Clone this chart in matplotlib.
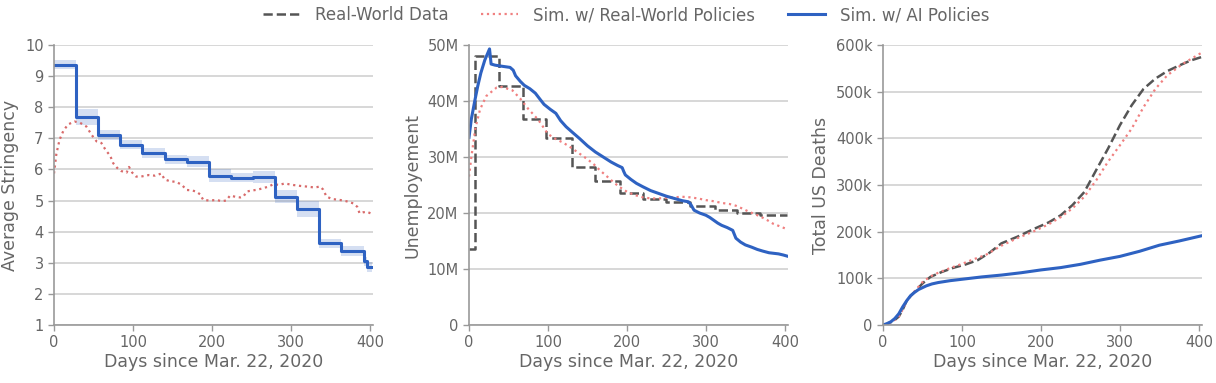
import matplotlib
matplotlib.use("Agg")
import matplotlib.pyplot as plt
from matplotlib.ticker import FuncFormatter

# --- stringency ---
str_rw_days = [0, 3, 7, 12, 18, 26, 33, 41, 48, 54, 60, 66, 71, 75, 80, 85, 92, 95, 99, 104,
               112, 120, 128, 136, 140, 147, 155, 162, 168, 174, 180, 185, 189, 197, 206, 212,
               218, 223, 230, 236, 240, 244, 250, 258, 265, 272, 278, 285, 292, 303, 312, 320,
               330, 337, 341, 345, 352, 362, 370, 379, 384, 387, 391, 396, 403]
str_rw_vals = [5.87, 6.5, 6.95, 7.25, 7.45, 7.54, 7.5, 7.38, 7.1, 6.9, 6.85, 6.6, 6.45, 6.2,
               6.05, 5.95, 5.9, 6.08, 5.9, 5.77, 5.78, 5.82, 5.8, 5.87, 5.68, 5.62, 5.6, 5.5,
               5.34, 5.33, 5.29, 5.2, 5.02, 5.0, 5.02, 4.98, 5.0, 5.16, 5.12, 5.1, 5.13, 5.29,
               5.32, 5.35, 5.4, 5.45, 5.53, 5.5, 5.55, 5.5, 5.47, 5.45, 5.42, 5.45, 5.35, 5.13,
               5.05, 5.02, 4.98, 4.91, 4.8, 4.59, 4.62, 4.64, 4.57]
str_ai_days = [0, 28, 56, 84, 112, 140, 168, 196, 224, 252, 280, 308, 336, 364, 392, 397, 403]
str_ai_vals = [9.37, 7.68, 7.11, 6.8, 6.53, 6.32, 6.25, 5.8, 5.74, 5.76, 5.13, 4.72, 3.62,
               3.38, 3.05, 2.86, 2.86]
str_ai_err = [0.15, 0.25, 0.15, 0.15, 0.15, 0.15, 0.17, 0.2, 0.15, 0.2, 0.2, 0.25, 0.15,
              0.15, 0.15, 0.15, 0.15]

# --- unemployment (millions) ---
un_real_days = [0, 8, 38, 68, 98, 130, 160, 191, 220, 250, 280, 311, 339, 368, 403]
un_real_vals = [13.5, 48.0, 42.6, 36.7, 33.4, 28.3, 25.7, 23.5, 22.5, 22.0, 21.3, 20.5,
                20.0, 19.7, 19.7]
un_rw_days = [0, 3, 8, 14, 22, 35, 42, 55, 65, 75, 88, 100, 110, 120, 130, 140, 150, 158,
              166, 175, 183, 190, 200, 210, 220, 230, 240, 250, 260, 270, 280, 290, 300, 310,
              320, 330, 338, 346, 355, 362, 370, 378, 385, 394, 403]
un_rw_vals = [26.5, 30.0, 35.1, 38.5, 40.9, 42.4, 42.5, 41.9, 40.4, 38.6, 36.6, 34.1, 33.2,
              32.5, 31.6, 30.6, 29.6, 28.7, 27.6, 26.5, 25.5, 24.7, 23.8, 23.2, 22.8, 22.6,
              22.6, 22.7, 22.8, 22.9, 22.8, 22.6, 22.3, 22.1, 21.8, 21.6, 21.3, 20.8, 20.2,
              19.8, 19.3, 18.7, 18.1, 17.6, 17.1]
un_ai_days = [0, 3, 7, 11, 15, 20, 26, 28, 33, 42, 52, 56, 59, 65, 70, 77, 84, 90, 95, 103,
              110, 116, 123, 131, 140, 150, 160, 170, 180, 188, 194, 196, 198, 205, 212, 220,
              230, 240, 250, 260, 270, 278, 281, 285, 292, 300, 305, 309, 315, 320, 327, 334,
              336, 338, 344, 350, 358, 365, 372, 380, 386, 392, 398, 403]
un_ai_vals = [33.5, 36.8, 39.8, 42.6, 45.0, 47.3, 49.3, 46.6, 46.4, 46.2, 46.0, 45.5, 44.5,
              43.5, 42.8, 42.2, 41.4, 40.3, 39.4, 38.5, 37.8, 36.5, 35.4, 34.4, 33.3, 32.0,
              30.9, 30.0, 29.1, 28.5, 28.1, 27.4, 26.8, 26.0, 25.3, 24.7, 24.0, 23.5, 23.0,
              22.6, 22.2, 22.0, 21.5, 20.5, 20.0, 19.6, 19.2, 18.8, 18.2, 17.8, 17.4, 16.9,
              16.2, 15.5, 14.8, 14.3, 13.9, 13.5, 13.2, 12.9, 12.8, 12.7, 12.5, 12.3]

# --- deaths (thousands) ---
de_real_days = [0, 5, 10, 15, 20, 25, 30, 35, 40, 45, 50, 60, 75, 90, 105, 120, 135, 150,
                170, 190, 210, 225, 240, 255, 270, 285, 300, 315, 330, 345, 360, 375, 390, 403]
de_real_vals = [0, 2, 6, 11, 18, 33, 52, 62, 71, 80, 89, 103, 114, 123, 130, 139, 155, 175,
                189, 205, 220, 235, 257, 285, 332, 378, 428, 471, 506, 528, 544, 556, 567, 574]
de_rw_days = [0, 5, 10, 15, 20, 25, 30, 35, 40, 45, 50, 60, 70, 85, 100, 115, 130, 150, 170,
              190, 210, 225, 240, 255, 270, 285, 300, 315, 330, 345, 360, 380, 403]
de_rw_vals = [0, 2, 6, 11, 18, 33, 52, 62, 72, 82, 92, 104, 112, 122, 131, 141, 150, 170,
              186, 200, 216, 231, 250, 275, 310, 350, 385, 421, 467, 506, 535, 560, 583]
de_ai_days = [0, 5, 10, 15, 20, 25, 30, 35, 40, 45, 50, 55, 62, 70, 85, 100, 125, 150, 175,
              200, 225, 250, 275, 300, 325, 350, 375, 403]
de_ai_vals = [0, 3, 7, 14, 24, 39, 52, 63, 70, 76, 80, 84, 88, 91, 95, 98, 103, 107, 112,
              118, 123, 130, 139, 147, 158, 171, 180, 191]

BLUE = "#2e62c2"
RED = "#f08080"
RED_DARK = "#d86a6a"
GRAY = "#555555"
TXT = "#666666"

fig = plt.figure(figsize=(12.16, 3.83), dpi=100)
lefts = [54, 469, 883]
axes = [fig.add_axes([l / 1216, 1 - 325 / 383, 319 / 1216, 280 / 383]) for l in lefts]

a = axes[0]
a.plot(str_rw_days, str_rw_vals, color=RED_DARK, ls=":", lw=1.6)
lo = [v - e for v, e in zip(str_ai_vals, str_ai_err)]
hi = [v + e for v, e in zip(str_ai_vals, str_ai_err)]
a.fill_between(str_ai_days, lo, hi, step="post", color=BLUE, alpha=0.2, lw=0)
a.step(str_ai_days, str_ai_vals, where="post", color=BLUE, lw=2.2)
a.set_ylim(1, 10)
a.set_yticks(range(1, 11))
a.set_ylabel("Average Stringency")

a = axes[1]
a.step(un_real_days, un_real_vals, where="post", color=GRAY, ls="--", lw=1.8)
a.plot(un_rw_days, un_rw_vals, color=RED, ls=":", lw=1.6)
a.plot(un_ai_days, un_ai_vals, color=BLUE, lw=2.2)
a.set_ylim(0, 50)
a.set_yticks(range(0, 51, 10))
a.yaxis.set_major_formatter(FuncFormatter(lambda v, p: "0" if v == 0 else f"{v:.0f}M"))
a.set_ylabel("Unemployement")

a = axes[2]
a.plot(de_real_days, de_real_vals, color=GRAY, ls="--", lw=1.8, label="Real-World Data")
a.plot(de_rw_days, de_rw_vals, color=RED, ls=":", lw=1.6, label="Sim. w/ Real-World Policies")
a.plot(de_ai_days, de_ai_vals, color=BLUE, lw=2.2, label="Sim. w/ AI Policies")
a.set_ylim(0, 600)
a.set_yticks(range(0, 601, 100))
a.yaxis.set_major_formatter(FuncFormatter(lambda v, p: "0" if v == 0 else f"{v:.0f}k"))
a.set_ylabel("Total US Deaths")

for a in axes:
    a.set_xlim(0, 404)
    a.set_xticks([0, 100, 200, 300, 400])
    a.set_xlabel("Days since Mar. 22, 2020", fontsize=12.5, color=TXT, labelpad=2)
    a.yaxis.label.set_color(TXT)
    a.yaxis.label.set_fontsize(12.5)
    a.grid(axis="y", color="#d4d4d4", lw=1.3)
    a.set_axisbelow(True)
    for s in ["top", "right"]:
        a.spines[s].set_visible(False)
    for s in ["left", "bottom"]:
        a.spines[s].set_color("#999999")
        a.spines[s].set_linewidth(1.2)
    a.tick_params(colors="#999999", labelcolor=TXT, labelsize=10.5, length=4, width=1)

h, l = axes[2].get_legend_handles_labels()
fig.legend(h, l, loc="center", bbox_to_anchor=(0.515, 0.96), ncol=3, frameon=False,
           fontsize=12, handlelength=2.2, handletextpad=0.9, columnspacing=2.0,
           labelcolor=TXT)

fig.savefig("out.png", dpi=100)
